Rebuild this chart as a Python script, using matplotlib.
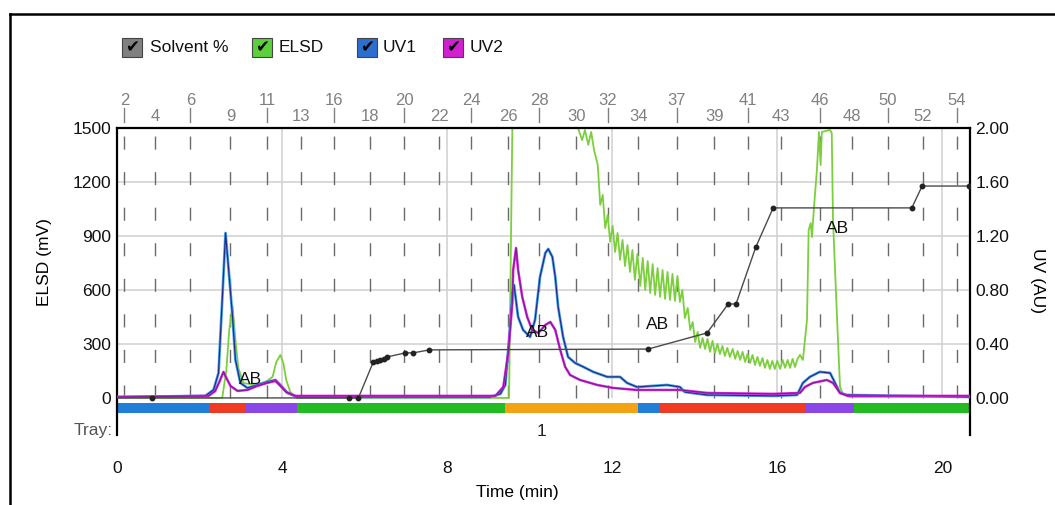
import numpy as np
import matplotlib.pyplot as plt
from matplotlib.patches import Rectangle
from matplotlib.lines import Line2D
import matplotlib.transforms as mtransforms

plt.rcParams['font.family'] = ['Liberation Sans', 'DejaVu Sans']

# run length (min)
time_max = 20.67

# ELSD detector trace (mV)
elsd_t = [0.0, 2.55, 2.65, 2.72, 2.80, 2.87, 2.94, 3.06, 3.35, 3.60, 3.77, 3.86, 3.96, 4.03, 4.10, 4.20, 4.35,
          9.50, 9.58, 11.17, 11.27, 11.34, 11.42, 11.49, 11.56,
          11.65, 11.71, 11.77, 11.83, 11.89, 11.95, 12.01, 12.07, 12.13, 12.19, 12.25, 12.31, 12.37, 12.43,
          12.49, 12.55, 12.61, 12.68, 12.74, 12.80, 12.86, 12.92, 12.98, 13.04, 13.10, 13.16, 13.22, 13.28,
          13.34, 13.40, 13.46, 13.52, 13.58, 13.64, 13.70, 13.76, 13.83, 13.89, 13.95, 14.01, 14.07, 14.13,
          14.19, 14.25, 14.31, 14.37, 14.43, 14.49, 14.55, 14.61, 14.67, 14.73, 14.79, 14.85, 14.92, 14.98,
          15.04, 15.10, 15.16, 15.22, 15.28, 15.34, 15.40, 15.46, 15.52, 15.58, 15.64, 15.70, 15.76, 15.82,
          15.88, 15.94, 16.00, 16.07, 16.13, 16.19, 16.25, 16.31, 16.37, 16.43, 16.49, 16.55,
          16.62, 16.72, 16.76, 16.81, 16.84, 16.89, 16.96, 17.01, 17.05, 17.08, 17.28, 17.32, 17.35, 17.45,
          17.52, 17.59, 17.76, 20.67]
elsd_mv = [0, 0, 156, 378, 511, 322, 167, 83, 72, 89, 117, 200, 239, 194, 100, 33, 0,
           0, 1500, 1500, 1433, 1489, 1406, 1478, 1378,
           1294, 1072, 1128, 944, 1017, 867, 956, 811, 917, 767, 878, 733, 850, 700,
           822, 656, 800, 622, 778, 600, 761, 583, 744, 572, 722, 561, 711, 550,
           700, 544, 689, 539, 678, 533, 600, 444, 500, 378, 422, 311, 367, 278,
           333, 272, 328, 256, 317, 250, 300, 244, 289, 233, 278, 228, 272, 217,
           261, 211, 256, 200, 244, 194, 239, 183, 228, 178, 222, 167, 211, 161,
           206, 161, 206, 161, 211, 167, 211, 167, 217, 172, 217, 239,
           211, 433, 933, 972, 894, 1061, 1267, 1478, 1294, 1478, 1489, 1472, 989, 433,
           61, 22, 6, 6]

# UV1 trace (AU)
uv1_t = [0.0, 2.14, 2.34, 2.46, 2.55, 2.63, 2.70, 2.80, 2.87, 2.99, 3.16, 3.40, 3.64, 3.84, 3.96, 4.13, 4.37,
         9.04, 9.29, 9.41, 9.50, 9.58, 9.62, 9.72, 9.84, 10.01, 10.13, 10.25, 10.38, 10.45, 10.55, 10.62,
         10.69, 10.81, 10.93, 11.10, 11.30, 11.54, 11.88, 12.19, 12.36, 12.60, 13.33, 13.64, 13.76, 14.30,
         15.90, 16.48, 16.62, 16.79, 17.03, 17.28, 17.40, 17.52, 17.69, 20.67]
uv1_au = [0.007, 0.015, 0.06, 0.185, 0.726, 1.222, 0.970, 0.600, 0.282, 0.111, 0.074, 0.096, 0.119, 0.133,
          0.096, 0.037, 0.007,
          0.007, 0.03, 0.096, 0.43, 0.778, 0.837, 0.600, 0.504, 0.452, 0.578, 0.896, 1.074, 1.104, 1.045, 0.896,
          0.674, 0.452, 0.304, 0.259, 0.230, 0.193, 0.156, 0.156, 0.111, 0.081, 0.096, 0.081, 0.044, 0.022,
          0.015, 0.022, 0.111, 0.156, 0.193, 0.185, 0.111, 0.037, 0.022, 0.007]

# UV2 trace (AU)
uv2_t = [0.0, 2.22, 2.38, 2.48, 2.58, 2.65, 2.75, 2.92, 3.16, 3.40, 3.64, 3.84, 3.96, 4.10, 4.32,
         9.17, 9.36, 9.48, 9.58, 9.60, 9.67, 9.72, 9.82, 9.94, 10.06, 10.21, 10.38, 10.50, 10.62, 10.74,
         10.86, 10.98, 11.22, 11.64, 12.02, 12.60, 13.64, 14.30, 15.90, 16.55, 16.67, 16.86, 17.20, 17.35,
         17.52, 17.71, 20.67]
uv2_au = [0.007, 0.015, 0.052, 0.119, 0.193, 0.148, 0.089, 0.052, 0.059, 0.089, 0.111, 0.126, 0.089, 0.044, 0.015,
          0.015, 0.081, 0.333, 0.704, 0.948, 1.111, 0.948, 0.748, 0.600, 0.504, 0.481, 0.541, 0.563, 0.504, 0.356,
          0.230, 0.170, 0.133, 0.096, 0.074, 0.059, 0.059, 0.037, 0.030, 0.037, 0.081, 0.111, 0.133, 0.111,
          0.037, 0.015, 0.015]

# solvent gradient (% B)
solvent_t = [0.0, 0.86, 5.63, 5.85, 6.21, 6.30, 6.38, 6.47, 6.55, 6.99, 7.18, 7.57, 12.87, 14.30, 14.81,
             15.00, 15.48, 15.90, 19.26, 19.51, 20.64]
solvent_pct = [0, 0, 0, 0, 13.3, 13.7, 14.1, 14.6, 15.2, 16.7, 16.7, 17.8, 18.1, 24.1, 34.8,
               34.8, 55.9, 70.4, 70.4, 78.5, 78.5]

# fraction tubes
frac_labels = ['2', '4', '6', '9', '11', '13', '16', '18', '20', '22', '24', '26', '28', '30', '32', '34',
               '37', '39', '41', '43', '46', '48', '50', '52', '54']
frac_t = [0.18, 0.93, 1.78, 2.75, 3.64, 4.47, 5.27, 6.14, 6.96, 7.81, 8.58, 9.48, 10.23, 11.13, 11.90, 12.63,
          13.57, 14.47, 15.29, 16.09, 17.03, 17.81, 18.68, 19.53, 20.35]

# tray rack segments
tray_start = [0.0, 2.22, 3.10, 4.37, 9.39, 12.63, 13.15, 16.66, 17.85]
tray_end = [2.22, 3.10, 4.37, 9.39, 12.63, 13.15, 16.66, 17.85, 20.65]
tray_colors = ['#1f7fd8', '#f03a22', '#8a46e6', '#22bb22', '#f2a213', '#1f7fd8', '#f03a22', '#8a46e6', '#22bb22']

# peak tags
ab_t = [3.24, 10.20, 13.09, 17.47]
ab_mv = [100, 361, 406, 944]

W, H = 1055, 505
fig = plt.figure(figsize=(W / 100, H / 100), dpi=100)
ax = fig.add_axes([117 / W, 1 - 435 / H, 853 / W, 307 / H])
ax.set_xlim(0, time_max)
ax.set_ylim(-206, 1500)
ax.set_xticks([0, 4, 8, 12, 16, 20])
ax.set_yticks([0, 300, 600, 900, 1200, 1500])
ax.tick_params(length=0, labelsize=12.5, colors='#111111')
ax.tick_params(axis='x', pad=19)
ax.tick_params(axis='y', pad=4)
ax.spines['bottom'].set_visible(False)
for s in ['left', 'top', 'right']:
    ax.spines[s].set_linewidth(1.6)

# grid
ax.hlines([300, 600, 900, 1200], 0, time_max, colors='#cfcfcf', lw=1.1, zorder=0.5)
ax.vlines([4, 8, 12, 16, 20], 0, 1500, colors='#cfcfcf', lw=1.1, zorder=0.5)
ax.vlines(frac_t, 0, 1500, colors='#6a6a6a', lw=1.0, linestyles=(0, (9.4, 16.2)), zorder=0.6)

# fraction numbers above the plot
top = mtransforms.blended_transform_factory(ax.transData, ax.transAxes)
for i, (lab, t) in enumerate(zip(frac_labels, frac_t)):
    if i % 2 == 0:
        ax.text(t, 1.091, lab, transform=top, ha='center', va='center', fontsize=12, color='#808080')
        ax.add_line(Line2D([t, t], [1.02, 1.065], transform=top, color='#808080', lw=1.0, clip_on=False))
    else:
        ax.text(t, 1.039, lab, transform=top, ha='center', va='center', fontsize=12, color='#808080')

# tray bar
for a, b, c in zip(tray_start, tray_end, tray_colors):
    ax.add_patch(Rectangle((a, -83), b - a, 55, facecolor=c, edgecolor='none', zorder=1))
ax.text(10.28, -189, '1', ha='center', va='center', fontsize=12.5, color='#222222')
fig.text(113 / W, 1 - 430 / H, 'Tray:', ha='right', va='center', fontsize=12.5, color='#555555')

# ELSD
ax.plot(elsd_t, elsd_mv, color='#7ccf3c', lw=1.3, zorder=2)

# UV traces
ax_uv = ax.twinx()
ax_uv.set_ylim(-206 / 750, 2.0)
ax_uv.set_yticks([0, 0.4, 0.8, 1.2, 1.6, 2.0])
ax_uv.set_yticklabels(['%.2f' % v for v in [0, 0.4, 0.8, 1.2, 1.6, 2.0]])
ax_uv.tick_params(length=0, labelsize=12.5, pad=4, colors='#111111')
for s in ax_uv.spines.values():
    s.set_visible(False)
ax_uv.plot(uv1_t, uv1_au, color='#4ea6ea', lw=2.0)
ax_uv.plot(uv1_t, uv1_au, color='#1f2f8a', lw=0.9)
ax_uv.plot(uv2_t, uv2_au, color='#d424d4', lw=1.8)
ax_uv.plot(uv2_t, uv2_au, color='#6a1c8e', lw=0.6)

# solvent gradient
ax_sv = ax.twinx()
ax_sv.set_ylim(-206 / 15, 100)
ax_sv.axis('off')
ax_sv.plot(solvent_t, solvent_pct, color='#4a4a4a', lw=1.0, marker='o', ms=3.2,
           mfc='#222222', mec='#222222', markevery=slice(1, None))

for t, v in zip(ab_t, ab_mv):
    ax_sv.text(t, v, 'AB', transform=ax.transData, ha='center', va='center', fontsize=12.5, color='#111111')

# axis titles
fig.text(45 / W, 1 - 262 / H, 'ELSD (mV)', rotation=90, ha='center', va='center', fontsize=12.5)
fig.text(1038 / W, 1 - 281 / H, 'UV (AU)', rotation=270, ha='center', va='center', fontsize=12.5)
fig.text(517 / W, 1 - 493 / H, 'Time (min)', ha='center', va='center', fontsize=12.5)

# legend check boxes
legend_items = [('Solvent %', '#808080', 122, 150), ('ELSD', '#5cd03a', 252, 279),
                ('UV1', '#2a6fd0', 357, 383), ('UV2', '#d020d0', 443, 470)]
for name, col, bx, tx in legend_items:
    fig.add_artist(Rectangle((bx / W, 1 - 57 / H), 20 / W, 19 / H, transform=fig.transFigure,
                             facecolor=col, edgecolor='#444444', lw=0.8))
    fig.text((bx + 10) / W, 1 - 47.5 / H, '\u2714', ha='center', va='center', fontsize=12,
             color='black', family='DejaVu Sans')
    fig.text(tx / W, 1 - 47 / H, name, ha='left', va='center', fontsize=12.5, color='#111111')

# outer frame
fig.add_artist(Line2D([10 / W, 10 / W], [0, 1 - 14 / H], transform=fig.transFigure, color='black', lw=1.8))
fig.add_artist(Line2D([10 / W, 1], [1 - 14 / H, 1 - 14 / H], transform=fig.transFigure, color='black', lw=1.8))

fig.savefig('out.png', dpi=100)
